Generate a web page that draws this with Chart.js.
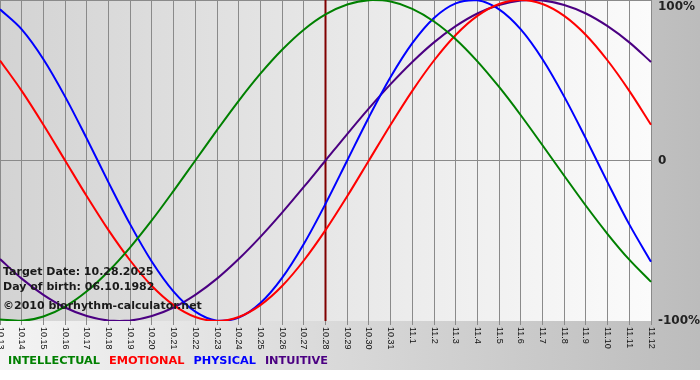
<!DOCTYPE html>
<html>
<head>
<meta charset="utf-8">
<script src="https://cdn.jsdelivr.net/npm/chart.js@4"></script>
<style>
html,body{margin:0;padding:0;background:#fff;}
#wrap{width:700px;height:380px;position:relative;}
</style>
</head>
<body>
<div id="wrap"><canvas id="c" width="700" height="380"></canvas></div>
<script>
const dateLabels = ['10.13','10.14','10.15','10.16','10.17','10.18','10.19','10.20','10.21','10.22','10.23','10.24','10.25','10.26','10.27','10.28','10.29','10.30','10.31','11.1','11.2','11.3','11.4','11.5','11.6','11.7','11.8','11.9','11.10','11.11','11.12'];
const seriesNames = ['INTELLECTUAL','EMOTIONAL','PHYSICAL','INTUITIVE'];
const intellectual = [-99.0,-99.9,-97.2,-91.0,-81.5,-69.0,-54.1,-37.2,-18.9,0,18.9,37.2,54.1,69.0,81.5,91.0,97.2,99.9,99.0,94.5,86.6,75.6,61.8,45.8,28.2,9.5,-9.5,-28.2,-45.8,-61.8,-75.6];
const emotional = [62.3,43.4,22.3,0,-22.3,-43.4,-62.3,-78.2,-90.1,-97.5,-100,-97.5,-90.1,-78.2,-62.3,-43.4,-22.3,0,22.3,43.4,62.3,78.2,90.1,97.5,100,97.5,90.1,78.2,62.3,43.4,22.3];
const physical = [94.2,81.7,63.1,39.8,13.6,-13.6,-39.8,-63.1,-81.7,-94.2,-99.8,-97.9,-88.8,-73.1,-52.0,-27.0,0,27.0,52.0,73.1,88.8,97.9,99.8,94.2,81.7,63.1,39.8,13.6,-13.6,-39.8,-63.1];
const intuitive = [-61.4,-73.6,-83.7,-91.6,-96.9,-99.7,-99.7,-96.9,-91.6,-83.7,-73.6,-61.4,-47.6,-32.5,-16.5,0,16.5,32.5,47.6,61.4,73.6,83.7,91.6,96.9,99.7,99.7,96.9,91.6,83.7,73.6,61.4];
const yTickValues = [100,0,-100];
const yTickLabels = ['100%','0','-100%'];
const targetLabel = '10.28';
const infoLines = ['Target Date: 10.28.2025','Day of birth: 06.10.1982','\u00A92010 biorhythm-calculator.net'];

const seriesColors = ['#008000','#ff0000','#0000ff','#4b0082'];
const seriesData = [intellectual, emotional, physical, intuitive];

const decor = {
  id: 'decor',
  beforeDraw(chart) {
    const ctx = chart.ctx, a = chart.chartArea;
    ctx.save();
    let g = ctx.createLinearGradient(0,0,700,0);
    g.addColorStop(0,'#f4f4f4'); g.addColorStop(1,'#bcbcbc');
    ctx.fillStyle = g; ctx.fillRect(0,0,700,370);
    g = ctx.createLinearGradient(a.left,0,a.right,0);
    g.addColorStop(0,'#d3d3d3'); g.addColorStop(1,'#fbfbfb');
    ctx.fillStyle = g; ctx.fillRect(a.left,a.top,a.right-a.left,a.bottom-a.top);
    ctx.restore();
  },
  beforeDatasetsDraw(chart) {
    const ctx = chart.ctx, a = chart.chartArea, xs = chart.scales.x;
    const x = xs.getPixelForValue(dateLabels.indexOf(targetLabel));
    ctx.save();
    ctx.strokeStyle = '#800000'; ctx.lineWidth = 2;
    ctx.beginPath(); ctx.moveTo(x, a.top); ctx.lineTo(x, a.bottom); ctx.stroke();
    ctx.restore();
  },
  afterDraw(chart) {
    const ctx = chart.ctx, a = chart.chartArea, xs = chart.scales.x, ys = chart.scales.y;
    ctx.save();
    ctx.font = '9px "Liberation Sans", Arial, sans-serif';
    ctx.fillStyle = '#111';
    ctx.textAlign = 'left'; ctx.textBaseline = 'middle';
    dateLabels.forEach((lab, i) => {
      const x = xs.getPixelForTick(i);
      ctx.save();
      ctx.translate(x, a.bottom + 6);
      ctx.rotate(Math.PI/2);
      ctx.fillText(lab, 0, 0);
      ctx.restore();
    });
    ctx.font = 'bold 12px "DejaVu Sans", sans-serif';
    ctx.fillStyle = '#222';
    yTickValues.forEach((v, i) => {
      let y = ys.getPixelForValue(v);
      y = Math.max(y, a.top + 7);
      ctx.fillText(yTickLabels[i], a.right + 7, y);
    });
    ctx.font = 'bold 11px "DejaVu Sans", sans-serif';
    ctx.fillStyle = '#1a1a1a';
    const infoY = [272, 287, 306];
    infoLines.forEach((t, i) => ctx.fillText(t, 3, infoY[i]));
    ctx.font = 'bold 11.3px "DejaVu Sans", sans-serif';
    let lx = 8;
    seriesNames.forEach((n, i) => {
      ctx.fillStyle = seriesColors[i];
      ctx.fillText(n, lx, 361);
      lx += ctx.measureText(n).width + 9;
    });
    ctx.restore();
  }
};

new Chart(document.getElementById('c'), {
  type: 'line',
  data: {
    labels: dateLabels,
    datasets: seriesNames.map((n, i) => ({
      label: n,
      data: seriesData[i],
      borderColor: seriesColors[i],
      borderWidth: 2,
      pointRadius: 0,
      tension: 0.33,
      fill: false
    }))
  },
  options: {
    responsive: false,
    animation: false,
    layout: { padding: { left: 0, right: 49, top: 0, bottom: 55 } },
    plugins: { legend: { display: false }, tooltip: { enabled: false } },
    scales: {
      x: {
        offset: false,
        border: { display: false },
        grid: { color: '#8a8a8a', lineWidth: 1, drawTicks: true, tickLength: 4 },
        ticks: { display: false, autoSkip: false }
      },
      y: {
        position: 'right',
        min: -100, max: 100,
        border: { display: false },
        grid: { drawTicks: false, lineWidth: 1, color: (c) => (c.tick && c.tick.value === -100) ? 'rgba(0,0,0,0)' : '#8a8a8a' },
        ticks: { display: false, stepSize: 100 }
      }
    }
  },
  plugins: [decor]
});
</script>
</body>
</html>
